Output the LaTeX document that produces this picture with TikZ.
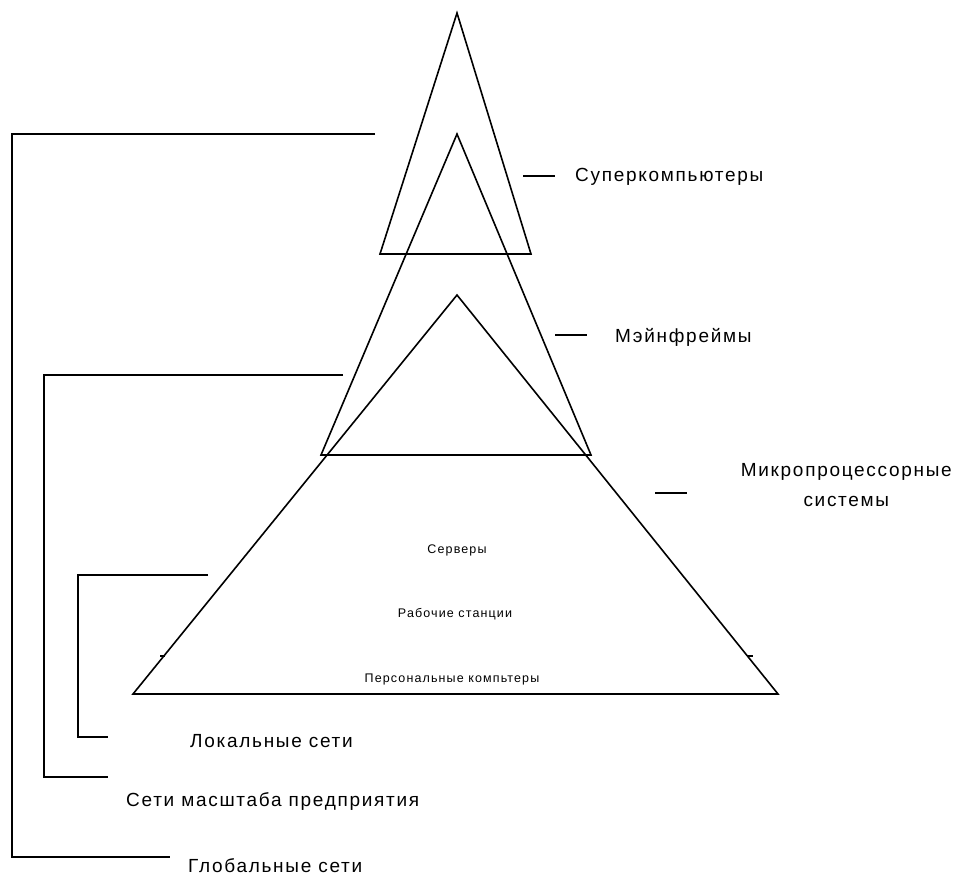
\documentclass[tikz,border=0pt]{standalone}
\usepackage{fontspec}
\setmainfont{Liberation Sans}
\newfontfamily\biglabel[LetterSpace=9]{Liberation Sans}
\newfontfamily\smalllabel[LetterSpace=9]{Liberation Sans}
\begin{document}
\begin{tikzpicture}[x=1pt,y=-1pt,
  tri/.style={line width=1.6pt, line join=miter},
  bracket/.style={line width=1.9pt},
  dashmark/.style={line width=1.9pt},
  lbl/.style={inner sep=0pt, font=\biglabel\fontsize{19}{30}\selectfont},
  inlbl/.style={inner sep=0pt, font=\smalllabel\fontsize{12.5}{14}\selectfont}]
\useasboundingbox (0,0) rectangle (953,876);

% pyramid levels
\draw[tri] (457,13) -- (531,254) -- (380,254) -- cycle;          % supercomputers
\draw[tri] (457,134) -- (591,455) -- (321,455) -- cycle;         % mainframes
\draw[tri] (457,295) -- (778,694) -- (133,694) -- cycle;         % microprocessor systems
\draw[line width=2.3pt] (133,694) -- (778,694);

% small marks on the lower sides
\draw[line width=1.2pt] (160,656) -- (165,656);
\draw[line width=1.2pt] (747,656) -- (753,656);

% level captions on the right
\coordinate (s1) at (523,176); \coordinate (s2) at (555,176);
\coordinate (m1) at (555,335); \coordinate (m2) at (587,335);
\coordinate (p1) at (655,493); \coordinate (p2) at (687,493);
\draw[dashmark] (s1) -- (s2);
\draw[dashmark] (m1) -- (m2);
\draw[dashmark] (p1) -- (p2);
\node[lbl, anchor=west] (super) at (575,177) {Суперкомпьютеры};
\node[lbl, anchor=west] (mainf) at (615,337) {Мэйнфреймы};
\node[lbl, align=center, anchor=east] (micro) at (952,485) {Микропроцессорные\\системы};

% node classes inside the base
\node[inlbl] (serv) at (457,550) {Серверы};
\node[inlbl] (work) at (455,614) {Рабочие станции};
\node[inlbl] (pers) at (452,679) {Персональные компьтеры};

% network scale brackets
\coordinate (g1) at (375,134); \coordinate (g2) at (12,134);
\coordinate (g3) at (12,857);  \coordinate (g4) at (170,857);
\coordinate (e1) at (343,375); \coordinate (e2) at (44,375);
\coordinate (e3) at (44,777);  \coordinate (e4) at (108,777);
\coordinate (l1) at (208,575); \coordinate (l2) at (78,575);
\coordinate (l3) at (78,737);  \coordinate (l4) at (108,737);
\draw[bracket] (g1) -- (g2) -- (g3) -- (g4);
\draw[bracket] (e1) -- (e2) -- (e3) -- (e4);
\draw[bracket] (l1) -- (l2) -- (l3) -- (l4);
\node[lbl, anchor=west] (local) at (190,741) {Локальные сети};
\node[lbl, anchor=west] (enter) at (126,801) {Сети масштаба предприятия};
\node[lbl, anchor=west] (glob) at (188,866) {Глобальные сети};
\end{tikzpicture}
\end{document}
